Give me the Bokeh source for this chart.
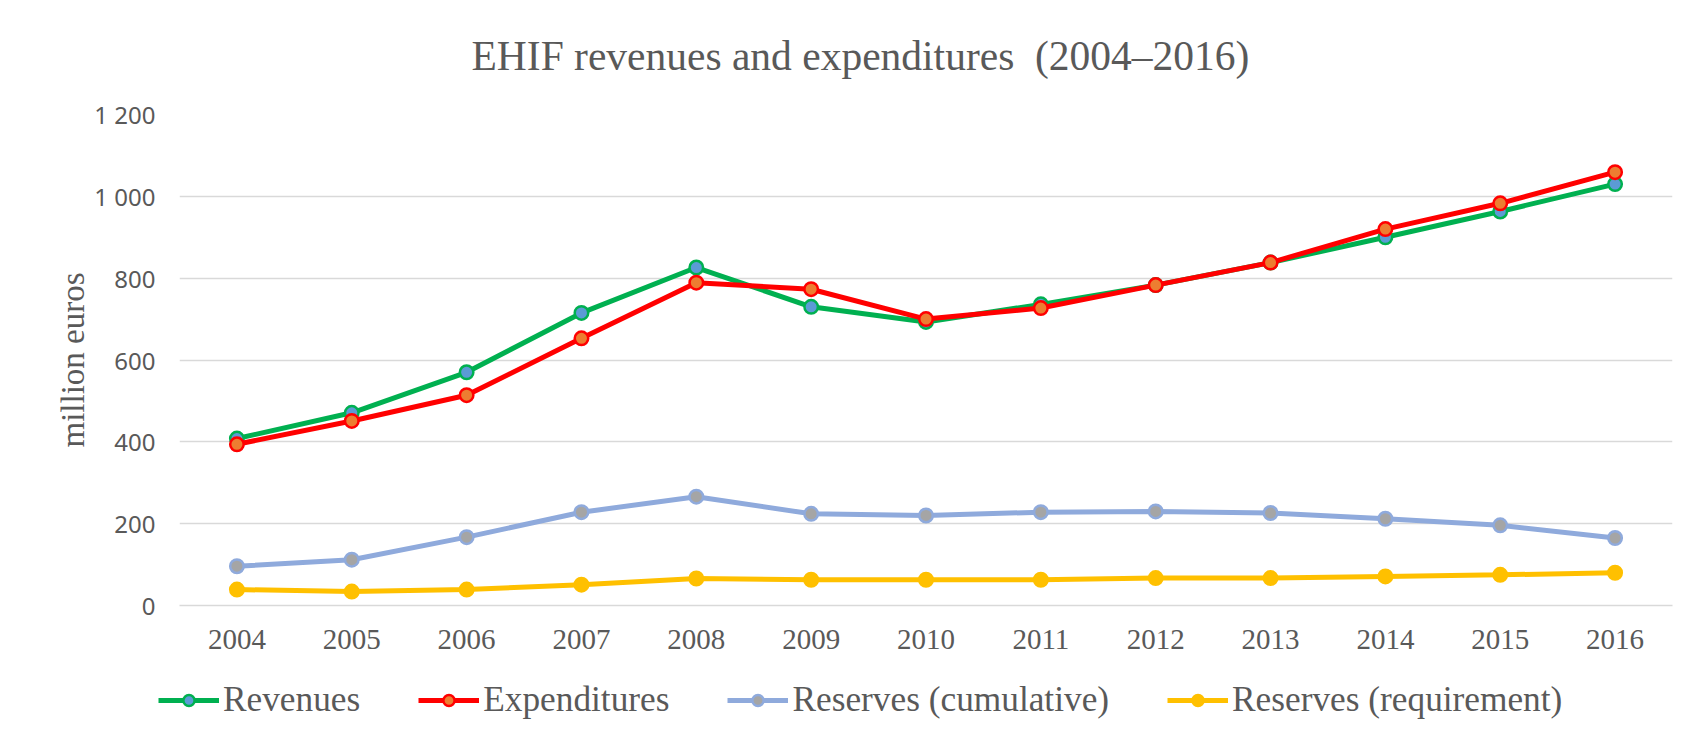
from bokeh.plotting import figure
from bokeh.layouts import column
from bokeh.models import (FactorRange, Range1d, FixedTicker, Legend,
                          LegendItem, Label)
from bokeh.embed import file_html
from bokeh.resources import INLINE

# ---- data (million euros) ----
years = ["2004", "2005", "2006", "2007", "2008", "2009", "2010",
         "2011", "2012", "2013", "2014", "2015", "2016"]
revenues = [408, 471, 570, 715, 826, 730, 693, 736, 783, 838, 900, 963, 1030]
expenditures = [394, 451, 514, 653, 789, 773, 700, 727, 783, 838, 920, 983, 1059]
reserves_cumulative = [96, 112, 167, 228, 266, 224, 220, 228, 230, 226, 212, 196, 165]
reserves_requirement = [39, 34, 39, 51, 66, 63, 63, 63, 67, 67, 71, 75, 80]
y_ticks = [0, 200, 400, 600, 800, 1000, 1200]
y_tick_labels = ["0", "200", "400", "600", "800", "1 000", "1 200"]

title_text = "EHIF revenues and expenditures\u00a0 (2004\u20132016)"
y_label = "million euros"

series = [
    ("Revenues", revenues, "#00B050", "#5B9BD5", "#00B050"),
    ("Expenditures", expenditures, "#FF0000", "#ED7D31", "#FF0000"),
    ("Reserves (cumulative)", reserves_cumulative, "#8FAADC", "#A5A5A5", "#8FAADC"),
    ("Reserves (requirement)", reserves_requirement, "#FFC000", "#FFC000", "#FFC000"),
]

TEXT = "#595959"
SERIF = "Liberation Serif"
W = 1700


def strip(height, x_range, y_range):
    f = figure(width=W, height=height, x_range=x_range, y_range=y_range,
               output_backend="svg", toolbar_location=None,
               x_axis_location=None, y_axis_location=None,
               min_border=0, frame_align=False)
    f.outline_line_color = None
    f.grid.grid_line_color = None
    f.border_fill_color = "white"
    return f


# ---------------- title strip ----------------
tp = strip(90, Range1d(0, 1), Range1d(0, 1))
tp.add_layout(Label(x=471, y=35, x_units="screen", y_units="screen",
                    text=title_text, text_font=SERIF,
                    text_font_size="41.5px", text_color=TEXT,
                    text_align="left", text_baseline="alphabetic"))

# ---------------- main chart ----------------
p = figure(width=W, height=578,
           x_range=FactorRange(*years), y_range=Range1d(0, 1200),
           output_backend="svg", toolbar_location=None,
           min_border_left=179, min_border_right=28,
           min_border_top=24, min_border_bottom=63, frame_align=False)

p.outline_line_color = None
p.background_fill_color = "white"
p.border_fill_color = "white"

p.xgrid.grid_line_color = None
p.ygrid.grid_line_color = "#D9D9D9"
p.ygrid.grid_line_width = 1.3

p.yaxis.ticker = FixedTicker(ticks=y_ticks)
p.yaxis.major_label_overrides = {t: l for t, l in zip(y_ticks, y_tick_labels)}
p.yaxis.axis_line_color = None
p.yaxis.major_tick_line_color = None
p.yaxis.major_tick_out = 0
p.yaxis.minor_tick_line_color = None
p.yaxis.major_label_standoff = 24
p.yaxis.major_label_text_font = "Noto Sans"
p.yaxis.major_label_text_font_size = "24px"
p.yaxis.major_label_text_color = TEXT
p.yaxis.axis_label = y_label
p.yaxis.axis_label_text_font = SERIF
p.yaxis.axis_label_text_font_size = "33px"
p.yaxis.axis_label_text_font_style = "normal"
p.yaxis.axis_label_text_color = TEXT
p.yaxis.axis_label_standoff = 0

p.xaxis.axis_line_color = "#D9D9D9"
p.xaxis.axis_line_width = 1.3
p.xaxis.major_tick_line_color = None
p.xaxis.major_tick_out = 0
p.xaxis.minor_tick_line_color = None
p.xaxis.major_label_standoff = 24
p.xaxis.major_label_text_font = SERIF
p.xaxis.major_label_text_font_size = "29px"
p.xaxis.major_label_text_color = TEXT

for name, vals, line_c, fill_c, edge_c in series:
    p.line(years, vals, line_color=line_c, line_width=5)
    p.scatter(years, vals, size=13.5, fill_color=fill_c,
              line_color=edge_c, line_width=2.5)

# ---------------- legend strip ----------------
lp = strip(72, FactorRange(*years), Range1d(0, 1200))

items = []
for name, vals, line_c, fill_c, edge_c in series:
    ln = lp.line(years, vals, line_color=line_c, line_width=5, visible=False)
    sc = lp.scatter(years, vals, size=13, fill_color=fill_c,
                    line_color=edge_c, line_width=2.5, visible=False)
    items.append(LegendItem(label=name, renderers=[ln, sc]))

legend = Legend(items=items, orientation="horizontal", location=(158, 20))
legend.label_text_font = SERIF
legend.label_text_font_size = "35.3px"
legend.label_text_color = TEXT
legend.glyph_width = 61
legend.glyph_height = 28
legend.label_standoff = 4
legend.spacing = 58
legend.padding = 0
legend.margin = 0
legend.border_line_color = None
legend.background_fill_alpha = 0
legend.inactive_fill_alpha = 0
lp.add_layout(legend, "center")

open("out.html", "w").write(file_html(column(tp, p, lp), INLINE))
